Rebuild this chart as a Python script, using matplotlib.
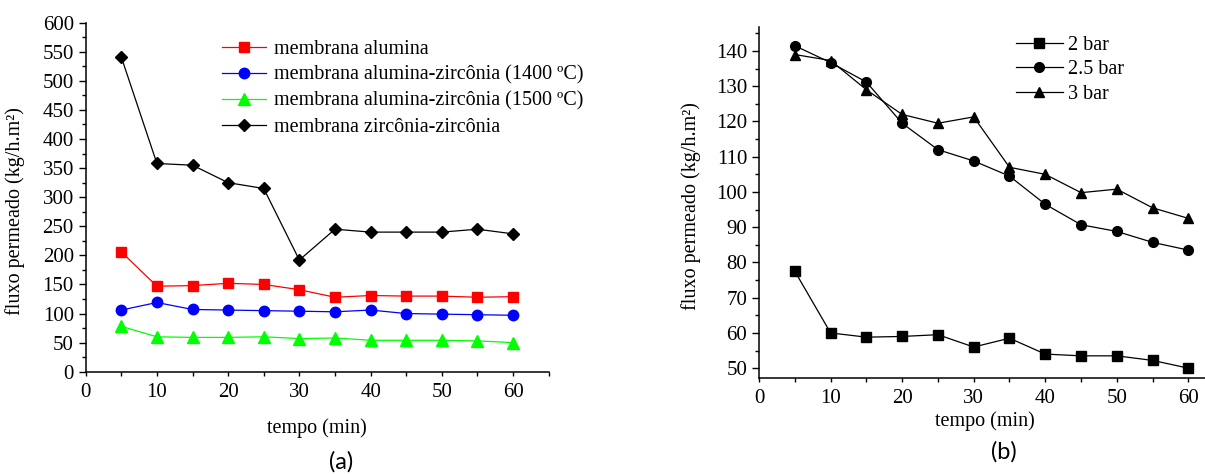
import numpy as np
import matplotlib.pyplot as plt
from matplotlib.ticker import MultipleLocator

plt.rcParams['font.family'] = ['Liberation Serif', 'DejaVu Serif']

# time points (min)
tempo = [5, 10, 15, 20, 25, 30, 35, 40, 45, 50, 55, 60]

# panel (a): flux for each membrane
alumina = [206, 147, 148, 152, 150, 141, 128, 131, 130, 130, 128, 129]
alu_zir_1400 = [106, 119, 107, 106, 105, 104, 103, 106, 100, 99, 98, 97]
alu_zir_1500 = [78, 60, 59, 59, 60, 57, 58, 54, 54, 54, 53, 50]
zir_zir = [541, 358, 355, 325, 315, 192, 245, 240, 240, 240, 245, 237]

# panel (b): flux for each pressure
bar_2 = [77.5, 60.0, 58.8, 59.0, 59.5, 56.0, 58.5, 54.0, 53.5, 53.5, 52.2, 50.0]
bar_25 = [141.5, 136.7, 131.2, 119.5, 112.0, 108.8, 104.5, 96.5, 90.7, 88.8, 85.7, 83.5]
bar_3 = [139.0, 137.3, 129.0, 122.0, 119.5, 121.3, 107.0, 105.0, 99.8, 100.8, 95.5, 92.5]

FS = 14.5
TICK_FS = 15
ylabel = 'fluxo permeado (kg/h.m²)'

fig = plt.figure(figsize=(12.05, 4.74), dpi=100)


def style_axes(ax):
    for side in ['top', 'right']:
        ax.spines[side].set_visible(False)
    for side in ['left', 'bottom']:
        ax.spines[side].set_linewidth(1.1)
    ax.xaxis.set_major_locator(MultipleLocator(10))
    ax.xaxis.set_minor_locator(MultipleLocator(5))
    ax.tick_params(axis='x', which='both', direction='out', length=3, width=1.0,
                   labelsize=TICK_FS, pad=5)
    ax.tick_params(axis='y', which='major', direction='out', length=5, width=1.0,
                   labelsize=TICK_FS, pad=3.5)
    ax.tick_params(axis='y', which='minor', direction='out', length=3, width=1.0)


# ---- panel (a)
ax1 = fig.add_axes([0.0711, 0.2158, 0.3842, 0.7363])
ax1.plot(tempo, alumina, '-s', color='#ff0000', lw=0.9, ms=7, label='membrana alumina')
ax1.plot(tempo, alu_zir_1400, '-o', color='#0000ff', lw=0.9, ms=7.5,
         label='membrana alumina-zircônia (1400 ºC)')
ax1.plot(tempo, alu_zir_1500, '-^', color='#00ff00', lw=0.9, ms=8,
         label='membrana alumina-zircônia (1500 ºC)')
ax1.plot(tempo, zir_zir, '-D', color='black', lw=0.9, ms=6.5,
         label='membrana zircônia-zircônia')
ax1.set_xlim(0, 65)
ax1.set_ylim(0, 600)
ax1.yaxis.set_major_locator(MultipleLocator(50))
ax1.yaxis.set_minor_locator(MultipleLocator(25))
style_axes(ax1)
ax1.set_xlabel('tempo (min)', fontsize=FS)
ax1.xaxis.set_label_coords(0.5, -0.133)
ax1.set_ylabel(ylabel, fontsize=FS)
ax1.yaxis.set_label_coords(-0.13, 0.46)
ax1.legend(loc='upper left', bbox_to_anchor=(0.2945, 0.952), frameon=False,
           fontsize=FS, handlelength=2.2, handletextpad=0.4, labelspacing=0.34,
           borderpad=0, borderaxespad=0, numpoints=1)

# ---- panel (b)
ax2 = fig.add_axes([0.6299, 0.2032, 0.386, 0.7405])
ax2.plot(tempo, bar_2, '-s', color='black', lw=0.9, ms=6.5, label='2 bar')
ax2.plot(tempo, bar_25, '-o', color='black', lw=0.9, ms=7, label='2.5 bar')
ax2.plot(tempo, bar_3, '-^', color='black', lw=0.9, ms=7.5, label='3 bar')
ax2.set_xlim(0, 65)
ax2.set_ylim(47.3, 146.9)
ax2.yaxis.set_major_locator(MultipleLocator(10))
ax2.yaxis.set_minor_locator(MultipleLocator(5))
style_axes(ax2)
ax2.set_xlabel('tempo (min)', fontsize=FS)
ax2.xaxis.set_label_coords(0.486, -0.095)
ax2.set_ylabel(ylabel, fontsize=FS)
ax2.yaxis.set_label_coords(-0.125, 0.49)
ax2.legend(loc='upper left', bbox_to_anchor=(0.553, 0.974), frameon=False,
           fontsize=FS, handlelength=2.3, handletextpad=0.27, labelspacing=0.27,
           borderpad=0, borderaxespad=0, numpoints=1)

# panel captions
fig.text(341 / 1205, 1 - 462 / 474, '(a)', family=['Lato', 'DejaVu Sans'],
         fontsize=17, ha='center', va='center')
fig.text(1004 / 1205, 1 - 452 / 474, '(b)', family=['Lato', 'DejaVu Sans'],
         fontsize=17, ha='center', va='center')

fig.savefig('out.png', dpi=100)
